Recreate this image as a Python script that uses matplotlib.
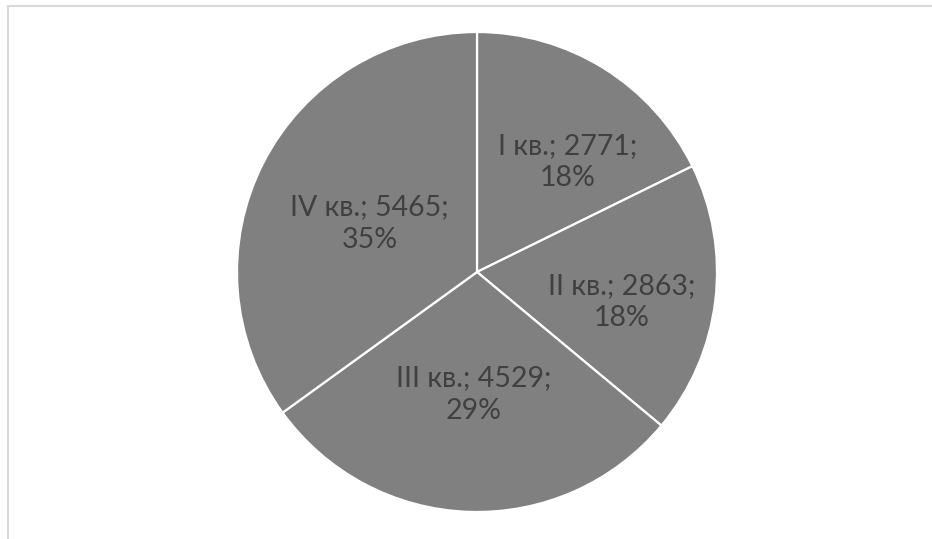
import numpy as np
import matplotlib.pyplot as plt
from matplotlib.lines import Line2D

# данные по кварталам
kvartaly = ['I кв.', 'II кв.', 'III кв.', 'IV кв.']
znacheniya = [2771, 2863, 4529, 5465]

plt.rcParams['font.family'] = ['Lato', 'DejaVu Sans']

fig = plt.figure(figsize=(9.32, 5.39), dpi=100)
W, H = 932, 539
cx, cy, r = 477, 272, 240
ax = fig.add_axes([(cx - r) / W, (H - cy - r) / H, 2 * r / W, 2 * r / H])

wedges, _ = ax.pie(znacheniya, startangle=90, counterclock=False,
                   colors=['#808080'] * len(znacheniya),
                   wedgeprops=dict(edgecolor='white', linewidth=1.6))
ax.set_xlim(-1, 1)
ax.set_ylim(-1, 1)
ax.set_aspect('equal')

total = sum(znacheniya)
# положение подписей (как в Excel "по ширине")
dist = [0.595, 0.617, 0.51, 0.49]
sdvig = [-7.7, -4.9, 0.6, 2.8]
for w, k, v, d, s in zip(wedges, kvartaly, znacheniya, dist, sdvig):
    ang = np.deg2rad((w.theta1 + w.theta2) / 2 + s)
    pct = round(v / total * 100)
    ax.text(d * np.cos(ang), d * np.sin(ang), f'{k}; {v};\n{pct}%',
            ha='center', va='center', fontsize=20.5, color='#404040',
            linespacing=1.3)

# рамка
fig.add_artist(Line2D([8 / W, 1], [1 - 6 / H, 1 - 6 / H], color='#d9d9d9', lw=1.5))
fig.add_artist(Line2D([8 / W, 8 / W], [0, 1 - 6 / H], color='#d9d9d9', lw=1.5))

fig.savefig('out.png', dpi=100)
